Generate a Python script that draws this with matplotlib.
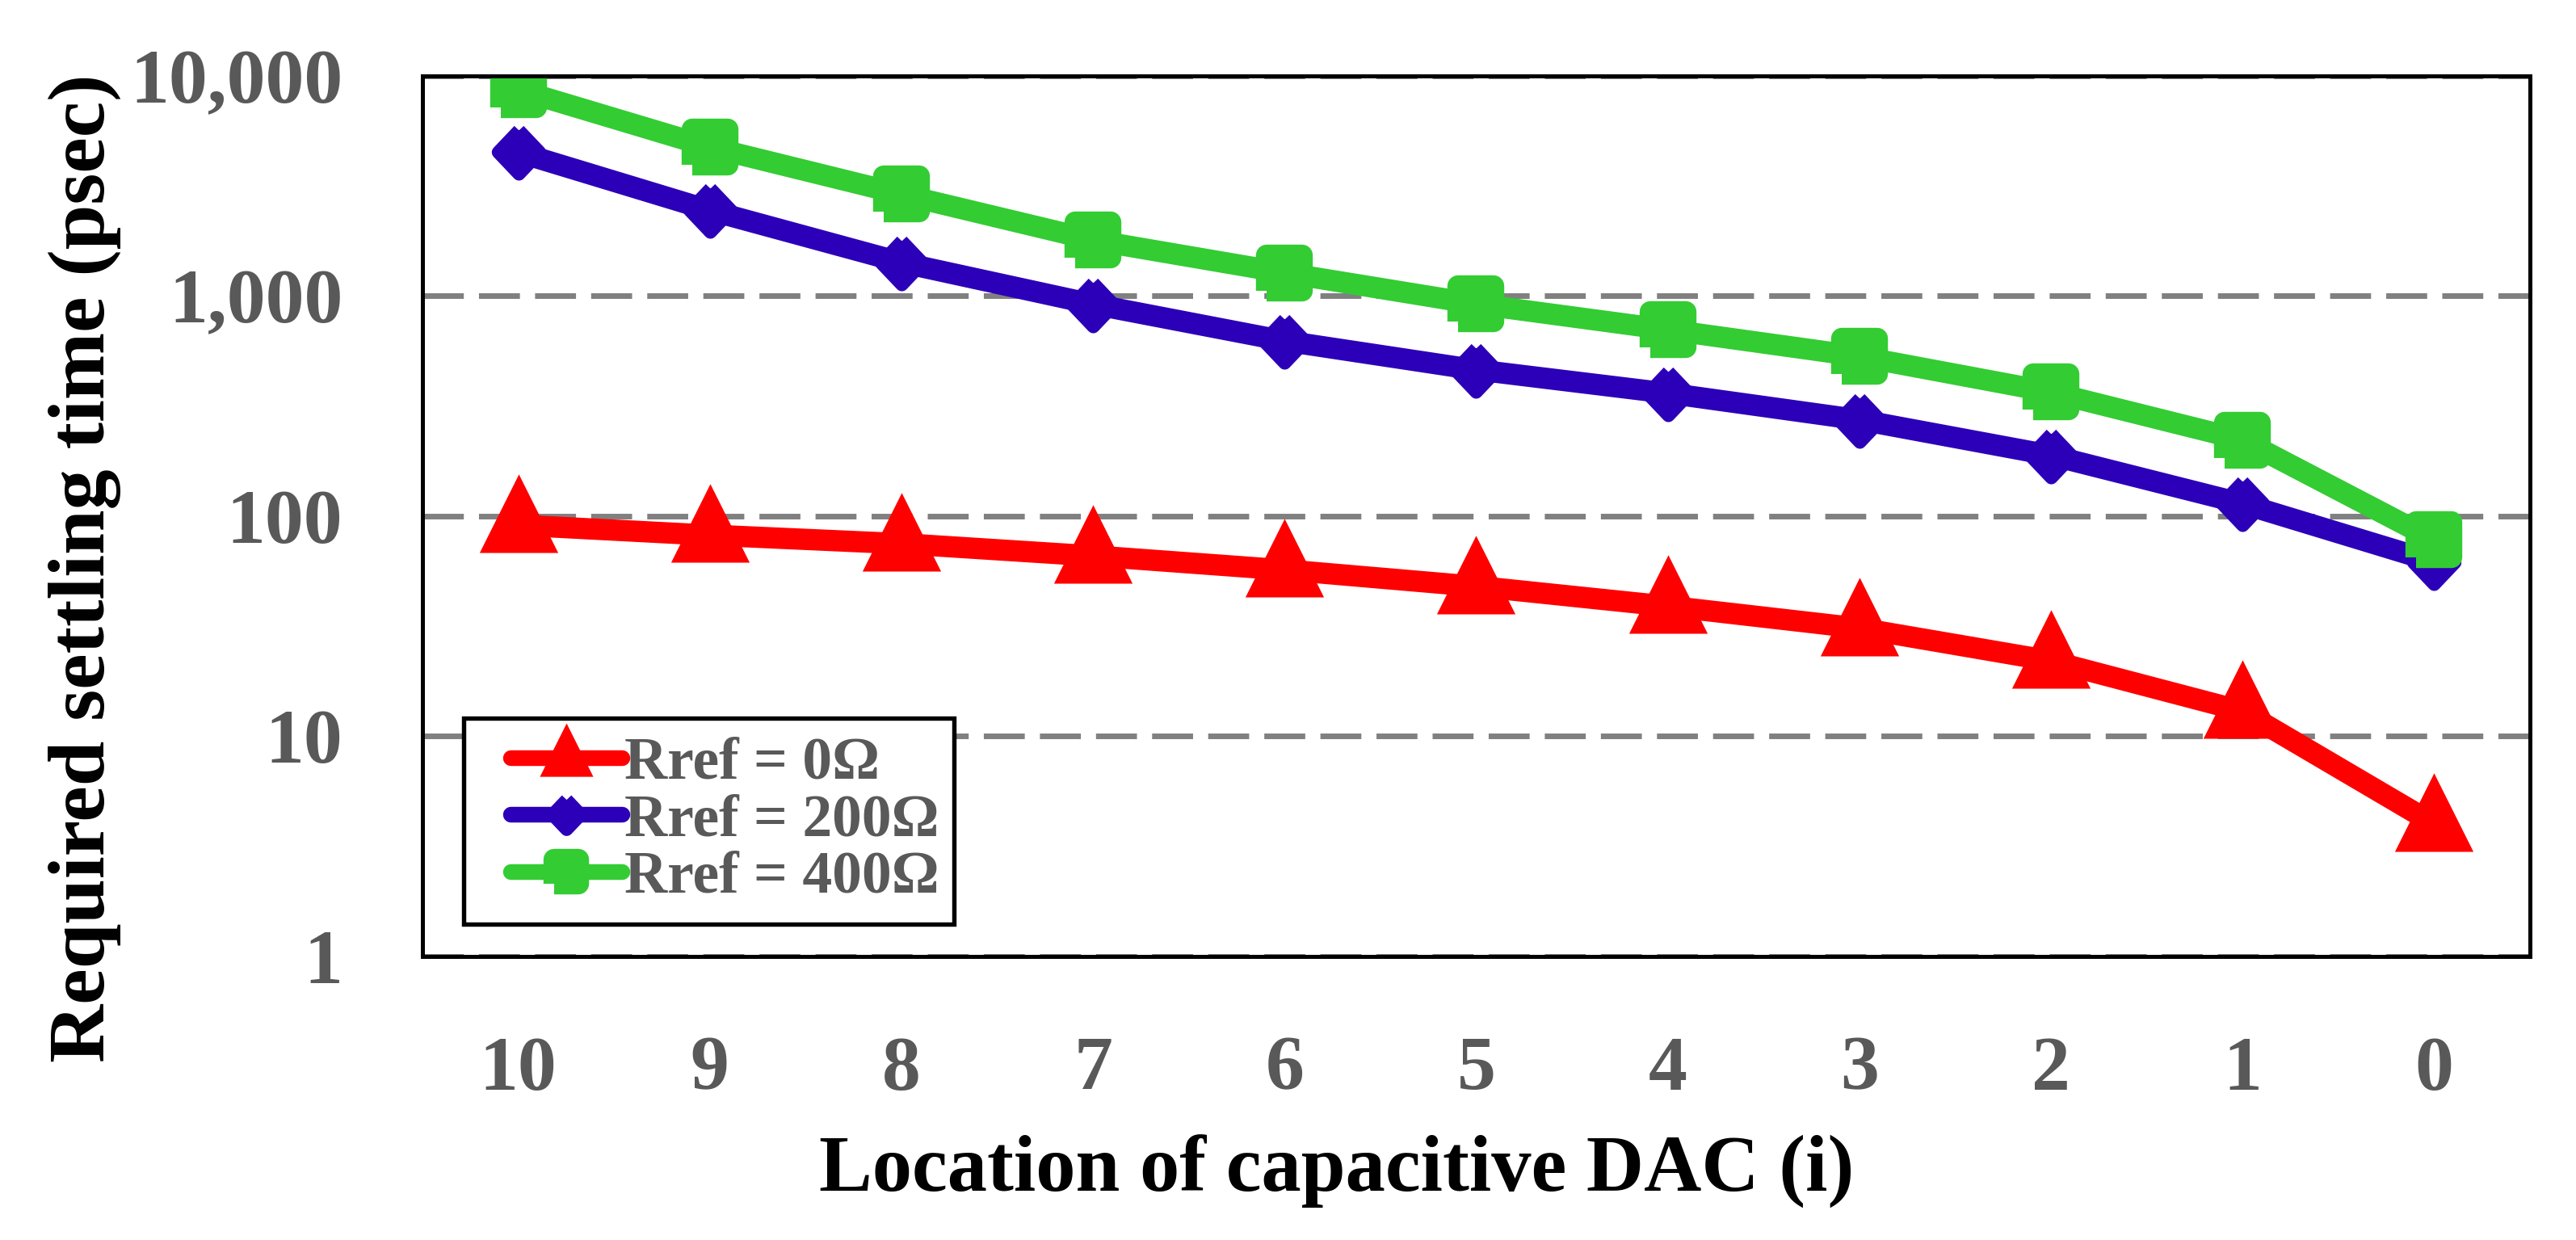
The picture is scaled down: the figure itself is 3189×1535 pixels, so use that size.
import numpy as np
import matplotlib
matplotlib.use("Agg")
import matplotlib.pyplot as plt
from matplotlib.markers import MarkerStyle
from matplotlib.patches import Rectangle
from matplotlib.ticker import FixedLocator, NullLocator

# data
locations = ["10", "9", "8", "7", "6", "5", "4", "3", "2", "1", "0"]
rref_0 = [91, 82, 75, 66, 57, 48, 39, 31, 22, 13, 4]
rref_200 = [4500, 2450, 1420, 918, 625, 462, 362, 274, 189, 114, 62]
rref_400 = [8650, 4750, 2900, 1795, 1275, 920, 703, 532, 366, 222, 78]
labels = ["Rref = 0\u03a9", "Rref = 200\u03a9", "Rref = 400\u03a9"]
yticks = [1, 10, 100, 1000, 10000]
ytick_labels = ["1", "10", "100", "1,000", "10,000"]

plt.rcParams['font.family'] = ['Liberation Serif', 'DejaVu Serif']
plt.rcParams['font.weight'] = 'bold'

gray_txt = "#595959"

# marker shapes (Excel-like), rounded corners via joinstyle
tri = MarkerStyle([(0, 1.3), (-1, -0.7), (1, -0.7), (0, 1.3)], joinstyle='miter')
diam = MarkerStyle([(0, 1), (0.95, 0), (0, -1), (-0.95, 0), (0, 1)], joinstyle='round')
sq = MarkerStyle([(-1, -1), (1, -1), (1, 1), (-1, 1), (-1, -1)], joinstyle='round')

fig = plt.figure(figsize=(31.89, 15.35), dpi=100)
ax = fig.add_axes([0.164, 0.2287, 0.8181, 0.7101])

x = np.arange(len(locations))

ax.plot(x, rref_0, color="#ff0000", lw=19, marker=tri, ms=91, mew=0,
        solid_joinstyle='round', solid_capstyle='round', label=labels[0], zorder=3)
ax.plot(x, rref_200, color="#2c00b8", lw=19, marker=diam, ms=39, mew=11.5,
        mec="#2c00b8", solid_joinstyle='round', solid_capstyle='round',
        label=labels[1], zorder=4)
ax.plot(x, rref_400, color="#33cc33", lw=19, marker=sq, ms=31.5, mew=19,
        mec="#33cc33", solid_joinstyle='round', solid_capstyle='round',
        label=labels[2], zorder=5)

ax.set_yscale('log')
ax.set_ylim(1, 10000)
ax.set_xlim(-0.5, len(locations) - 0.5)

ax.yaxis.set_major_locator(FixedLocator(yticks))
ax.yaxis.set_minor_locator(NullLocator())
ax.set_yticklabels(ytick_labels)
ax.set_xticks(x)
ax.set_xticklabels(locations)
ax.tick_params(axis='both', length=0, pad=71, labelsize=69, labelcolor=gray_txt)

ax.yaxis.grid(True, which='major', color="#808080", lw=5, ls=(0, (7.3, 2.7)), zorder=0)
ax.set_axisbelow(True)

for s in ax.spines.values():
    s.set_linewidth(3.6)
    s.set_color("black")
    s.set_zorder(6)

fig.text(0.033, 0.542, "Required settling time (psec)", rotation=90,
         ha='center', va='center', fontsize=72, fontweight='bold', color='black')
fig.text(0.519, 0.055, "Location of capacitive DAC (i)",
         ha='center', va='center', fontsize=71, fontweight='bold', color='black')

# legend box drawn by hand so its padding matches the reference
ax.add_patch(Rectangle((0.0195, 0.0367), 0.2327, 0.2339, transform=ax.transAxes,
                       facecolor='white', edgecolor='black', lw=3.9,
                       zorder=9, clip_on=False))
leg = ax.legend(loc='center left', bbox_to_anchor=(0.0418, 0.154), fontsize=53,
                markerscale=0.68, handlelength=1.87, handletextpad=0.05,
                labelspacing=0.03, borderpad=0, borderaxespad=0, frameon=False)
leg.set_zorder(10)
for ln in leg.get_lines():
    ln.set_linewidth(14)
for t in leg.get_texts():
    t.set_color(gray_txt)
    t.set_fontweight('bold')

fig.savefig("out.png", dpi=100, facecolor='white')
